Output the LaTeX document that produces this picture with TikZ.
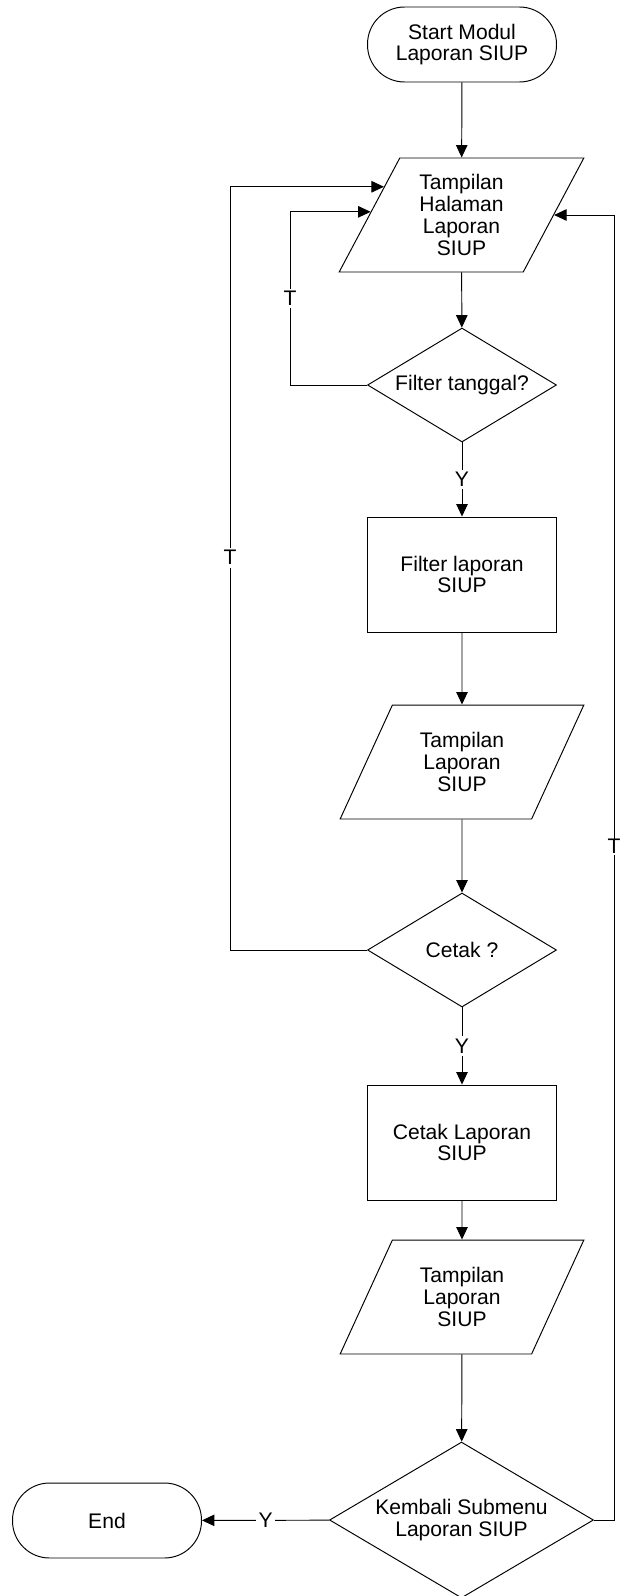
\documentclass[tikz,border=0pt]{standalone}
\usepackage{fontspec}
\setmainfont{Liberation Sans}
\usetikzlibrary{shapes.geometric,arrows.meta}

\tikzset{
  terminal/.style={draw, rectangle, rounded corners=0.74cm, minimum width=3.78cm, minimum height=1.5cm, align=center},
  inout/.style={draw, trapezium, trapezium left angle=63, trapezium right angle=117, trapezium stretches=true, minimum width=4.9cm, minimum height=2.28cm, align=center},
  process/.style={draw, rectangle, minimum width=3.78cm, minimum height=2.3cm, align=center},
  decision/.style={draw, diamond, aspect=1.66, minimum width=3.78cm, minimum height=2.28cm, inner sep=1pt, align=center},
  flow/.style={draw, -{Triangle[length=0.25cm,width=0.23cm]}},
  lbl/.style={fill=white, inner sep=1.5pt}
}

\begin{document}
\begin{tikzpicture}[x=0.02cm, y=-0.02cm, line width=0.55pt,
  every node/.style={font=\fontsize{12}{12.4}\selectfont}]
\useasboundingbox (0,0) rectangle (622,1596);

\node[terminal] (start) at (462,44.5) {Start Modul\\Laporan SIUP};
\node[inout] (hal) at (461.5,215) {Tampilan\\Halaman\\Laporan\\SIUP};
\node[decision] (filtq) at (462,385) {Filter tanggal?};
\node[process] (filt) at (462,574.5) {Filter laporan\\SIUP};
\node[inout] (tamp1) at (462,762) {Tampilan\\Laporan\\SIUP};
\node[decision] (cetq) at (462,950) {Cetak ?};
\node[process] (cetak) at (462,1142.5) {Cetak Laporan\\SIUP};
\node[inout] (tamp2) at (462,1297) {Tampilan\\Laporan\\SIUP};
\node[decision, aspect=1.69, minimum width=5.28cm, minimum height=3.12cm] (kembali) at (461.5,1520) {Kembali Submenu\\Laporan SIUP};
\node[terminal] (end) at (107,1520.5) {End};

\coordinate (tfilt) at (290,385);
\coordinate (tcetak) at (230,950);
\coordinate (tkembali) at (614,1520);

\draw[flow] (start) -- (hal);
\draw[flow] (hal) -- (filtq);
\draw[flow] (filtq) -- node[lbl]{Y} (filt);
\draw[flow] (filt) -- (tamp1);
\draw[flow] (tamp1) -- (cetq);
\draw[flow] (cetq) -- node[lbl]{Y} (cetak);
\draw[flow] (cetak) -- (tamp2);
\draw[flow] (tamp2) -- (kembali);
\draw[flow] (kembali) -- node[lbl]{Y} (end);

\draw[flow] (filtq.west) -- (tfilt) |- node[lbl,pos=0.25]{T} (hal.178);
\draw[flow] (cetq.west) -- (tcetak) |- node[lbl,pos=0.257]{T} (hal.160);
\draw[flow] (kembali.east) -- (tkembali) |- node[lbl,pos=0.258,inner sep=0.5pt]{T} (hal.0);

\end{tikzpicture}
\end{document}
